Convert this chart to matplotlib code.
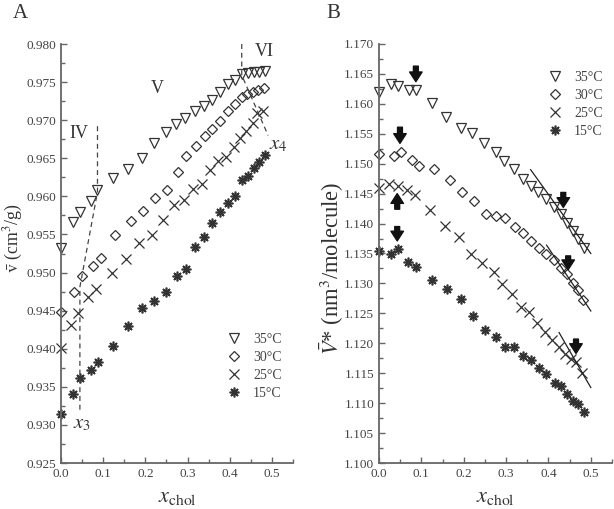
import matplotlib
matplotlib.use("Agg")
import matplotlib.pyplot as plt
from matplotlib.ticker import MultipleLocator, FormatStrFormatter

plt.rcParams['font.family'] = ['Liberation Serif', 'DejaVu Serif']
plt.rcParams['mathtext.fontset'] = 'stix'

# ---------------- Panel A data ----------------
xA35 = [0.0, 0.0275, 0.0448, 0.070, 0.0865, 0.124, 0.159, 0.191, 0.220, 0.248, 0.273, 0.295, 0.318,
        0.339, 0.358, 0.376, 0.395, 0.413, 0.430, 0.444, 0.458, 0.469, 0.483]
yA35 = [0.9532, 0.9567, 0.9579, 0.9594, 0.9608, 0.9624, 0.9636, 0.9650, 0.9670, 0.9684, 0.9695, 0.9703,
        0.9712, 0.9719, 0.9727, 0.9737, 0.9747, 0.9753, 0.9761, 0.9762, 0.9763, 0.9763, 0.9765]
xA30 = [0.0, 0.0314, 0.0495, 0.077, 0.094, 0.128, 0.166, 0.194, 0.222, 0.252, 0.277, 0.297, 0.319,
        0.341, 0.359, 0.377, 0.395, 0.413, 0.430, 0.442, 0.454, 0.467, 0.481]
yA30 = [0.9448, 0.9474, 0.9495, 0.9509, 0.9519, 0.9549, 0.9568, 0.9581, 0.9598, 0.9608, 0.9632, 0.9653,
        0.9666, 0.9679, 0.9688, 0.9699, 0.9712, 0.9721, 0.9730, 0.9735, 0.9737, 0.9740, 0.9742]
xA25 = [0.0, 0.0236, 0.041, 0.064, 0.083, 0.120, 0.155, 0.186, 0.215, 0.242, 0.269, 0.291, 0.314,
        0.334, 0.354, 0.373, 0.391, 0.410, 0.425, 0.439, 0.454, 0.465, 0.480]
yA25 = [0.9401, 0.9431, 0.9447, 0.9468, 0.9479, 0.9500, 0.9518, 0.9539, 0.9549, 0.9569, 0.9589, 0.9595,
        0.9610, 0.9616, 0.9635, 0.9646, 0.9652, 0.9665, 0.9677, 0.9686, 0.9696, 0.9709, 0.9712]
xA15 = [0.0, 0.0275, 0.045, 0.070, 0.087, 0.124, 0.160, 0.192, 0.220, 0.248, 0.274, 0.296, 0.318,
        0.339, 0.358, 0.377, 0.395, 0.413, 0.429, 0.443, 0.457, 0.469, 0.483]
yA15 = [0.9314, 0.9340, 0.9362, 0.9372, 0.9382, 0.9404, 0.9430, 0.9453, 0.9462, 0.9474, 0.9495, 0.9505,
        0.9534, 0.9547, 0.9565, 0.9579, 0.9591, 0.9601, 0.9621, 0.9627, 0.9637, 0.9645, 0.9654]

# boundary (dashed) lines in A
bndA1_x = [0.0865, 0.0865, 0.0448, 0.0448]
bndA1_y = [0.9692, 0.9606, 0.9481, 0.9320]
bndA2_x = [0.4285, 0.4285, 0.491]
bndA2_y = [0.9800, 0.9759, 0.9680]

# ---------------- Panel B data ----------------
xB35 = [0.0, 0.0275, 0.0456, 0.0708, 0.087, 0.125, 0.158, 0.193, 0.220, 0.249, 0.275, 0.296, 0.318,
        0.340, 0.358, 0.375, 0.394, 0.413, 0.430, 0.444, 0.458, 0.470, 0.483]
yB35 = [1.1619, 1.1633, 1.1630, 1.1623, 1.1623, 1.1601, 1.1578, 1.1560, 1.1551, 1.1535, 1.1520, 1.1505,
        1.1491, 1.1474, 1.1462, 1.1452, 1.1441, 1.1427, 1.1416, 1.1401, 1.1388, 1.1374, 1.1360]
xB30 = [0.0, 0.0346, 0.051, 0.078, 0.094, 0.130, 0.167, 0.196, 0.224, 0.253, 0.277, 0.297, 0.321,
        0.341, 0.359, 0.377, 0.395, 0.413, 0.429, 0.443, 0.457, 0.469, 0.482]
yB30 = [1.1516, 1.1513, 1.1519, 1.1506, 1.1497, 1.1492, 1.1472, 1.1453, 1.1438, 1.1416, 1.1413, 1.1410,
        1.1395, 1.1384, 1.1371, 1.1359, 1.1350, 1.1339, 1.1325, 1.1315, 1.1300, 1.1289, 1.1272]
xB25 = [0.0, 0.0243, 0.044, 0.067, 0.084, 0.121, 0.156, 0.189, 0.218, 0.244, 0.271, 0.291, 0.314,
        0.335, 0.355, 0.374, 0.391, 0.409, 0.425, 0.440, 0.454, 0.466, 0.480]
yB25 = [1.1460, 1.1466, 1.1463, 1.1456, 1.1447, 1.1422, 1.1396, 1.1378, 1.1349, 1.1334, 1.1319, 1.1299,
        1.1282, 1.1260, 1.1252, 1.1234, 1.1219, 1.1206, 1.1194, 1.1182, 1.1174, 1.1169, 1.1150]
xB15 = [0.0, 0.0275, 0.0456, 0.069, 0.087, 0.125, 0.160, 0.193, 0.221, 0.250, 0.276, 0.297, 0.319,
        0.340, 0.358, 0.377, 0.395, 0.415, 0.430, 0.444, 0.458, 0.470, 0.483]
yB15 = [1.1355, 1.1350, 1.1357, 1.1336, 1.1327, 1.1305, 1.1290, 1.1274, 1.1246, 1.1223, 1.1211, 1.1194,
        1.1194, 1.1179, 1.1172, 1.1159, 1.1148, 1.1133, 1.1129, 1.1115, 1.1104, 1.1099, 1.1085]

# tangent lines in B
tan35_x = [0.358, 0.500]; tan35_y = [1.1490, 1.1350]
tan30_x = [0.3955, 0.500]; tan30_y = [1.1364, 1.1254]
tan25_x = [0.425, 0.500]; tan25_y = [1.1218, 1.1126]

# arrows in B: (x, y_tail, y_head)
arrows_B = [(0.087, 1.1663, 1.1637),
            (0.0495, 1.1561, 1.1534),
            (0.043, 1.1424, 1.1450),
            (0.043, 1.1395, 1.1371),
            (0.435, 1.1452, 1.1427),
            (0.4465, 1.1346, 1.1323),
            (0.465, 1.1207, 1.1183)]

labels = ['35°C', '30°C', '25°C', '15°C']

mk_color = '#333333'
ax_color = '#666666'

W, H = 614, 509
fig = plt.figure(figsize=(W / 100, H / 100), dpi=100)
axA = fig.add_axes([61/W, 46/H, 232/W, 419/H])
axB = fig.add_axes([379/W, 46/H, 233/W, 419/H])

def style(ax):
    for s in ['top', 'right']:
        ax.spines[s].set_visible(False)
    for s in ['left', 'bottom']:
        ax.spines[s].set_color(ax_color)
        ax.spines[s].set_linewidth(1.3)
    ax.tick_params(which='both', direction='in', color=ax_color, labelcolor='#444444', labelsize=9.5, width=1.0)
    ax.tick_params(which='major', length=4)
    ax.tick_params(which='minor', length=3)
    ax.xaxis.set_major_locator(MultipleLocator(0.1))
    ax.xaxis.set_minor_locator(MultipleLocator(0.05))
    ax.xaxis.set_major_formatter(FormatStrFormatter('%.1f'))
    ax.set_xlim(0, 0.55)

def draw_series(ax, xs, ys):
    h = []
    h.append(ax.plot(xs[0], ys[0], ls='none', marker='v', ms=7, mfc='none', mec=mk_color, mew=0.9, clip_on=False)[0])
    h.append(ax.plot(xs[1], ys[1], ls='none', marker='D', ms=5.5, mfc='none', mec=mk_color, mew=0.9, clip_on=False)[0])
    h.append(ax.plot(xs[2], ys[2], ls='none', marker='x', ms=7, mfc='none', mec=mk_color, mew=0.9, clip_on=False)[0])
    h.append(ax.plot(xs[3], ys[3], ls='none', marker=(8, 2, 0), ms=7, mec=mk_color, mew=1.2, clip_on=False)[0])
    return h

# ---------- Panel A ----------
style(axA)
hA = draw_series(axA, [xA35, xA30, xA25, xA15], [yA35, yA30, yA25, yA15])
axA.plot(bndA1_x, bndA1_y, ls=(0, (4, 3)), color='#444444', lw=0.9)
axA.plot(bndA2_x, bndA2_y, ls=(0, (4, 3)), color='#444444', lw=0.9)
axA.set_ylim(0.925, 0.980)
axA.yaxis.set_major_locator(MultipleLocator(0.005))
axA.yaxis.set_minor_locator(MultipleLocator(0.0025))
axA.yaxis.set_major_formatter(FormatStrFormatter('%.3f'))
axA.text(0.043, 0.9682, 'IV', fontsize=13, ha='center', va='center', color='#333333')
axA.text(0.229, 0.9742, 'V', fontsize=13, ha='center', va='center', color='#333333')
axA.text(0.481, 0.9790, 'VI', fontsize=13, ha='center', va='center', color='#333333')
axA.text(0.515, 0.9668, r'$x_4$', fontsize=15, ha='center', va='center', color='#333333')
axA.text(0.050, 0.9302, r'$x_3$', fontsize=15, ha='center', va='center', color='#333333')
axA.legend(hA, labels, loc='upper left', bbox_to_anchor=(0.66, 0.34), frameon=False,
           fontsize=10, handlelength=1.0, handletextpad=0.9, labelspacing=0.35, labelcolor='#444444')
axA.set_xlabel(r'$x_{\mathrm{chol}}$', fontsize=16, color='#333333', labelpad=6)
fig.text(20/W, 1 - 13/H, 'A', fontsize=15, ha='center', va='center', color='#333333')

# ---------- Panel B ----------
style(axB)
hB = draw_series(axB, [xB35, xB30, xB25, xB15], [yB35, yB30, yB25, yB15])
for tx, ty in [(tan35_x, tan35_y), (tan30_x, tan30_y), (tan25_x, tan25_y)]:
    axB.plot(tx, ty, color='#222222', lw=0.9)
for (ax_, yt, yh) in arrows_B:
    axB.annotate('', xy=(ax_, yh), xytext=(ax_, yt),
                 arrowprops=dict(arrowstyle='simple,head_width=0.9,head_length=0.7,tail_width=0.35',
                                 color='#111111', mutation_scale=10, shrinkA=0, shrinkB=0))
axB.set_ylim(1.100, 1.170)
axB.yaxis.set_major_locator(MultipleLocator(0.005))
axB.yaxis.set_minor_locator(MultipleLocator(0.0025))
axB.yaxis.set_major_formatter(FormatStrFormatter('%.3f'))
axB.legend(hB, labels, loc='upper left', bbox_to_anchor=(0.67, 0.965), frameon=False,
           fontsize=10, handlelength=1.0, handletextpad=0.9, labelspacing=0.35, labelcolor='#444444')
axB.set_xlabel(r'$x_{\mathrm{chol}}$', fontsize=16, color='#333333', labelpad=6)
fig.text(333/W, 1 - 13/H, 'B', fontsize=15, ha='center', va='center', color='#333333')

# y labels as rotated figure texts, sized to the reference length
def ylabel_fit(text, x, ha, y_center, target_len, fs0=12):
    t = fig.text(x / W, 1 - y_center / H, text, rotation=90, ha=ha, va='center',
                 fontsize=fs0, color='#333333')
    fig.canvas.draw()
    bb = t.get_window_extent()
    t.set_fontsize(fs0 * target_len / bb.height)
    return t

ylabel_fit(r'$\bar{\mathrm{v}}$ (cm$^3$/g)', 2, 'left', 238, 70)
ylabel_fit(r'$\bar{V}$* (nm$^3$/molecule)', 346, 'right', 268, 174)

fig.savefig('out.png', dpi=100)
